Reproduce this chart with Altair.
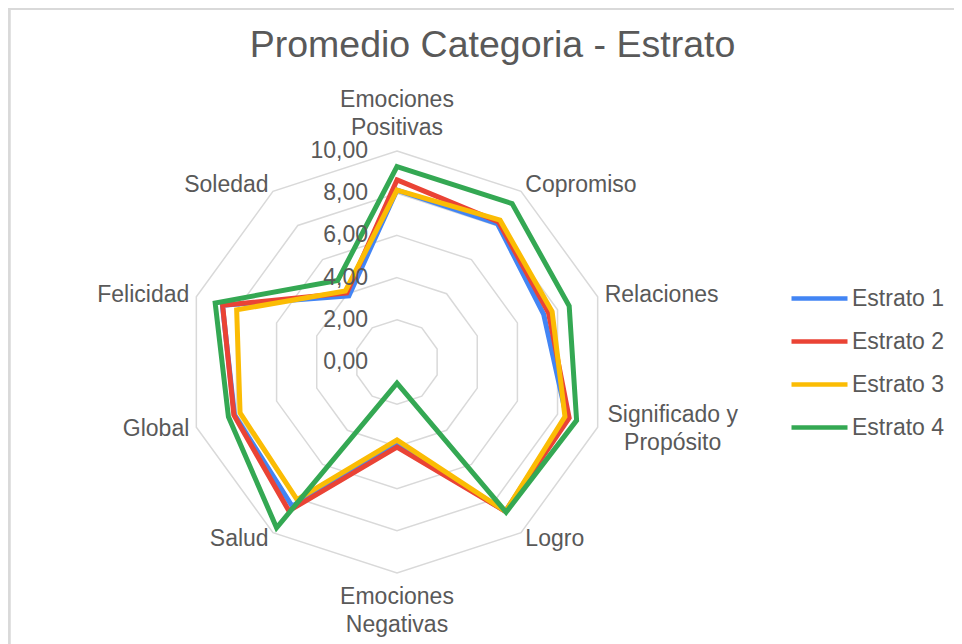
import math
import pandas as pd
import altair as alt

# ---------------- data ----------------
titulo = "Promedio Categoria - Estrato"
categorias = ["Emociones\nPositivas", "Copromiso", "Relaciones", "Significado y\nPropósito",
              "Logro", "Emociones\nNegativas", "Salud", "Global", "Felicidad", "Soledad"]
series = ["Estrato 1", "Estrato 2", "Estrato 3", "Estrato 4"]
estrato1 = [8.15, 8.10, 7.31, 8.45, 8.75, 3.85, 8.45, 8.10, 8.70, 3.88]
estrato2 = [8.63, 8.20, 7.55, 8.58, 8.75, 4.03, 8.72, 8.13, 8.69, 4.05]
estrato3 = [8.15, 8.31, 7.73, 8.37, 8.75, 3.70, 8.06, 7.82, 7.99, 4.16]
estrato4 = [9.26, 9.28, 8.58, 8.95, 8.80, 1.00, 9.71, 8.40, 9.06, 4.78]
ticks = [0, 2, 4, 6, 8, 10]
tick_labels = ["0,00", "2,00", "4,00", "6,00", "8,00", "10,00"]
colores = ["#4285F4", "#EA4335", "#FBBC04", "#34A853"]

# ---------------- layout ----------------
W, H = 946, 636
CX, CY = 389, 354
U = 21.1
xdom = [-CX / U, (W - CX) / U]
ydom = [-(H - CY) / U, CY / U]
N = len(categorias)
GRAY = "#595959"
FONT = "Liberation Sans"
FS = 23


def polar(v, i):
    a = math.radians(360.0 / N * i)
    return v * math.sin(a), v * math.cos(a)


rows = []
for s, vals in zip(series, [estrato1, estrato2, estrato3, estrato4]):
    for i, v in enumerate(vals):
        x, y = polar(v, i)
        rows.append({"serie": s, "idx": i, "valor": v, "x": x, "y": y})
df = pd.DataFrame(rows)

ring_rows = []
for t in ticks[1:]:
    for i in range(N):
        x, y = polar(t, i)
        ring_rows.append({"ring": t, "idx": i, "x": x, "y": y})
rings_df = pd.DataFrame(ring_rows)

tick_df = pd.DataFrame({"x": [0.0] * len(ticks), "y": ticks, "label": tick_labels})

lab_rows = []
for i, c in enumerate(categorias):
    x, y = polar(10.35, i)
    if i == 0:
        lado = "top"
    elif i == N // 2:
        lado = "bottom"
    elif i == 3:
        lado = "center"
    elif i < N // 2:
        lado = "right"
    else:
        lado = "left"
    lab_rows.append({"label": c, "x": x, "y": y, "lado": lado})
lab_df = pd.DataFrame(lab_rows)

xs = alt.Scale(domain=xdom, nice=False, zero=False)
ys = alt.Scale(domain=ydom, nice=False, zero=False)
X = alt.X("x:Q", scale=xs, axis=None)
Y = alt.Y("y:Q", scale=ys, axis=None)

rings = alt.Chart(rings_df).mark_line(
    interpolate="linear-closed", stroke="#d9d9d9", strokeWidth=1.5
).encode(x=X, y=Y, detail="ring:N", order="idx:Q")

lines = alt.Chart(df).mark_line(
    interpolate="linear-closed", strokeWidth=5
).encode(
    x=X, y=Y, order="idx:Q",
    color=alt.Color(
        "serie:N",
        scale=alt.Scale(domain=series, range=colores),
        legend=alt.Legend(
            title=None, orient="none", legendX=781, legendY=260,
            symbolType="stroke", symbolSize=3136, symbolStrokeWidth=4.5,
            labelFontSize=FS, labelColor=GRAY, labelFont=FONT, labelOffset=2,
            rowPadding=-21, padding=0,
        ),
    ),
)

tick_text = alt.Chart(tick_df).mark_text(
    align="right", baseline="middle", dx=-29, fontSize=FS, color=GRAY, font=FONT
).encode(x=X, y=Y, text="label:N")


def lab_layer(lado, **kw):
    return alt.Chart(lab_df).transform_filter(alt.datum.lado == lado).mark_text(
        fontSize=FS, color=GRAY, font=FONT, lineBreak="\n", lineHeight=28, **kw
    ).encode(x=X, y=Y, text="label:N")


lab_top = lab_layer("top", align="center", baseline="bottom", dy=-32)
lab_bottom = lab_layer("bottom", align="center", baseline="top", dy=6)
lab_right = lab_layer("right", align="left", baseline="middle")
lab_left = lab_layer("left", align="right", baseline="middle")
lab_center = lab_layer("center", align="center", baseline="middle", dx=68, dy=-14)

title_df = pd.DataFrame({"t": [titulo]})
title = alt.Chart(title_df).mark_text(
    fontSize=37.5, color=GRAY, font=FONT, baseline="alphabetic", align="center"
).encode(x=alt.value(484.5), y=alt.value(49), text="t:N")

border_top = alt.Chart(title_df).mark_rule(color="#d9d9d9", strokeWidth=2).encode(
    x=alt.value(0), x2=alt.value(W), y=alt.value(1)
)
border_left = alt.Chart(title_df).mark_rule(color="#d9d9d9", strokeWidth=2.5).encode(
    x=alt.value(1.5), y=alt.value(0), y2=alt.value(H)
)

chart = alt.layer(
    border_top, border_left, rings, lines, tick_text,
    lab_top, lab_bottom, lab_right, lab_left, lab_center, title
).properties(
    width=W, height=H, autosize=alt.AutoSizeParams(type="none"), padding=0
).configure_view(stroke=None).configure(font=FONT, background="white")

chart.save("out.html", embed_options={"renderer": "svg", "actions": False})
